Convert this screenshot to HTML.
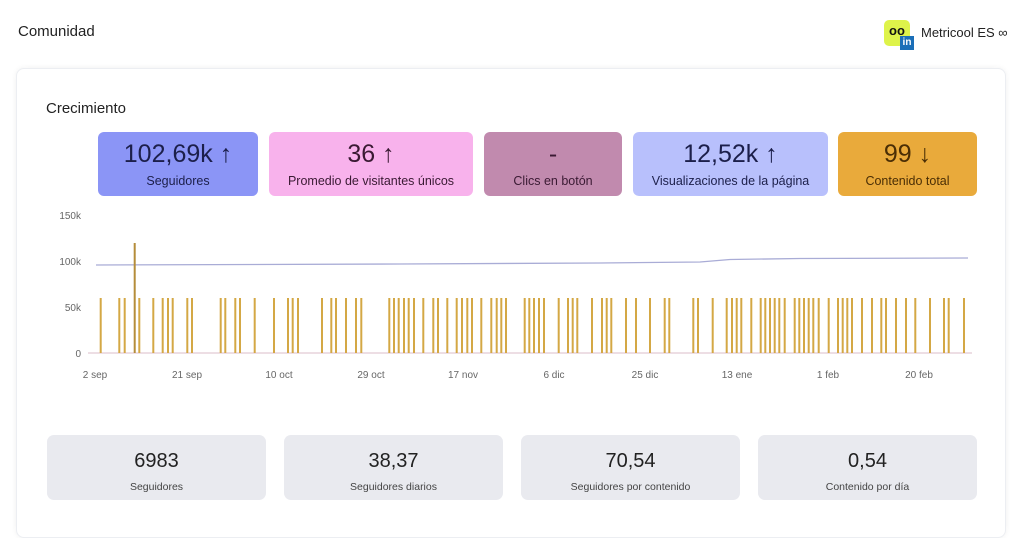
<!DOCTYPE html>
<html><head><meta charset="utf-8"><style>
*{margin:0;padding:0;box-sizing:border-box}
body{width:1024px;height:523px;background:#fff;font-family:"Liberation Sans",sans-serif;position:relative;overflow:hidden;color:#222}
.a{position:absolute}
.card{position:absolute;left:16px;top:68px;width:990px;height:470px;border:1px solid #eceef2;border-radius:8px;box-shadow:0 0 6px rgba(0,0,0,.06);background:#fff}
.m{position:absolute;top:132px;height:64px;border-radius:6px;text-align:center}
.m .v{font-size:25px;margin-top:8px;line-height:28px}
.m .l{font-size:12.5px;margin-top:6px}
.b{position:absolute;top:435px;height:65px;width:219px;border-radius:7px;background:#e9eaef;text-align:center;color:#222}
.b .v{font-size:20px;margin-top:14px;line-height:24px}
.b .l{font-size:10.5px;margin-top:8px;color:#444}
.t{font-size:10px;fill:#666;font-family:"Liberation Sans",sans-serif}
</style></head><body>
<div class="a" style="left:18px;top:23px;font-size:15px;color:#222">Comunidad</div>
<div class="a" style="left:884px;top:20px;width:26px;height:26px;background:#def34a;border-radius:5px;font-size:13px;font-weight:bold;text-align:center;line-height:22px;color:#111">oo</div>
<div class="a" style="left:900px;top:36px;width:14px;height:14px;background:#1b6fb8;color:#fff;font-size:10px;font-weight:bold;text-align:center;line-height:14px">in</div>
<div class="a" style="left:921px;top:25px;font-size:13px;color:#222">Metricool ES ∞</div>
<div class="card"></div>
<div class="a" style="left:46px;top:100px;font-size:15px;color:#222">Crecimiento</div>
<div class="m" style="left:98px;width:160px;background:#8b95f6;color:#1c1f4a"><div class="v">102,69k ↑</div><div class="l">Seguidores</div></div>
<div class="m" style="left:269px;width:204px;background:#f8b2ec;color:#3a1a33"><div class="v">36 ↑</div><div class="l">Promedio de visitantes únicos</div></div>
<div class="m" style="left:484px;width:138px;background:#c18aae;color:#3a1a33"><div class="v">-</div><div class="l">Clics en botón</div></div>
<div class="m" style="left:633px;width:195px;background:#b8c0fc;color:#1c1f4a"><div class="v">12,52k ↑</div><div class="l">Visualizaciones de la página</div></div>
<div class="m" style="left:838px;width:139px;background:#e9aa3b;color:#4a2e05"><div class="v">99 ↓</div><div class="l">Contenido total</div></div>
<svg class="a" style="left:0;top:0" width="1024" height="523">
<text class="t" x="81" y="219" text-anchor="end">150k</text>
<text class="t" x="81" y="265" text-anchor="end">100k</text>
<text class="t" x="81" y="311" text-anchor="end">50k</text>
<text class="t" x="81" y="357" text-anchor="end">0</text>
<line x1="88" y1="353" x2="972" y2="353" stroke="#e7d4dc" stroke-width="1.5"/>
<polyline points="96,265 400,264 600,263 700,262 730,259.5 800,258.5 968,258" fill="none" stroke="#a9acd6" stroke-width="1.3"/>
<g stroke="#d4a845" stroke-width="2">
<path d="M100.7 353V298M119.3 353V298M124.7 353V298M139.3 353V298M153.3 353V298M162.7 353V298M168 353V298M172.7 353V298M187.3 353V298M192 353V298M220.7 353V298M225.3 353V298M235.3 353V298M240 353V298M254.7 353V298M274 353V298M288 353V298M292.7 353V298M298 353V298M322 353V298M331.3 353V298M336 353V298M346 353V298M356 353V298M361.3 353V298M389.3 353V298M394 353V298M398.7 353V298M404 353V298M408.7 353V298M414 353V298M423.3 353V298M433.3 353V298M438 353V298M447.3 353V298M456.7 353V298M462 353V298M467.3 353V298M472 353V298M481.3 353V298M491.3 353V298M496.7 353V298M501.3 353V298M506 353V298M524.7 353V298M529.3 353V298M534 353V298M539 353V298M544 353V298M558.7 353V298M568 353V298M572.7 353V298M577.3 353V298M592 353V298M602 353V298M606.7 353V298M611.3 353V298M626 353V298M636 353V298M650 353V298M664.7 353V298M669.3 353V298M693.3 353V298M698 353V298M712.7 353V298M726.7 353V298M732 353V298M736.7 353V298M741.3 353V298M751.3 353V298M760.7 353V298M765.3 353V298M770 353V298M774.7 353V298M779.3 353V298M784.7 353V298M794.7 353V298M799.3 353V298M804 353V298M808.7 353V298M813.3 353V298M818.7 353V298M828.7 353V298M838 353V298M842.7 353V298M847.3 353V298M852 353V298M862 353V298M872 353V298M881.3 353V298M886 353V298M896 353V298M906 353V298M915.3 353V298M930 353V298M944 353V298M948.7 353V298M964 353V298"/>
<path d="M134.7 353V243" stroke="#b58d3a"/>
</g>
<g class="t" text-anchor="middle">
<text x="95" y="378">2 sep</text><text x="187" y="378">21 sep</text><text x="279" y="378">10 oct</text><text x="371" y="378">29 oct</text><text x="463" y="378">17 nov</text><text x="554" y="378">6 dic</text><text x="645" y="378">25 dic</text><text x="737" y="378">13 ene</text><text x="828" y="378">1 feb</text><text x="919" y="378">20 feb</text>
</g>
</svg>
<div class="b" style="left:47px"><div class="v">6983</div><div class="l">Seguidores</div></div>
<div class="b" style="left:284px"><div class="v">38,37</div><div class="l">Seguidores diarios</div></div>
<div class="b" style="left:521px"><div class="v">70,54</div><div class="l">Seguidores por contenido</div></div>
<div class="b" style="left:758px"><div class="v">0,54</div><div class="l">Contenido por día</div></div>
</body></html>
